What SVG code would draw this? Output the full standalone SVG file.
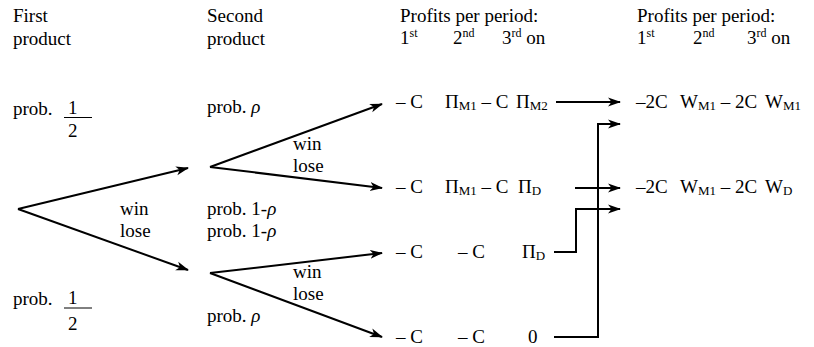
<svg xmlns="http://www.w3.org/2000/svg" width="814" height="347" viewBox="0 0 814 347" font-family="'Liberation Serif', 'Times New Roman', Times, serif">
<style>
text{font-family:'Liberation Serif','Times New Roman',Times,serif;font-size:19px;fill:#000}
.sub{font-size:13px}
.sup{font-size:12px}
.c{stroke:#000;stroke-width:2;fill:none}
</style>
<defs>
<marker id="ah" markerUnits="userSpaceOnUse" markerWidth="14" markerHeight="10" refX="12" refY="5" orient="auto">
<path d="M0,0.5 L13,5 L0,9.5 L3.5,5 z" fill="#000"/>
</marker>
</defs>
<g id="headers">
<text x="13" y="22">First</text>
<text x="13" y="45">product</text>
<text x="207" y="22">Second</text>
<text x="207" y="45">product</text>
<text x="400" y="22">Profits per period:</text>
<text x="400" y="44">1<tspan class="sup" dy="-7">st</tspan></text>
<text x="453" y="44">2<tspan class="sup" dy="-7">nd</tspan></text>
<text x="502" y="44">3<tspan class="sup" dy="-7">rd</tspan><tspan dy="7"> on</tspan></text>
<text x="637" y="22">Profits per period:</text>
<text x="637" y="44">1<tspan class="sup" dy="-7">st</tspan></text>
<text x="693" y="44">2<tspan class="sup" dy="-7">nd</tspan></text>
<text x="747" y="44">3<tspan class="sup" dy="-7">rd</tspan><tspan dy="7"> on</tspan></text>
</g>
<g id="first-probs">
<text x="13" y="115">prob.</text>
<text x="68" y="114">1</text>
<line x1="64" y1="117.5" x2="92" y2="117.5" stroke="#000" stroke-width="1"/>
<text x="68" y="137">2</text>
<text x="13" y="305">prob.</text>
<text x="68" y="304">1</text>
<line x1="64" y1="308" x2="92" y2="308" stroke="#000" stroke-width="1"/>
<text x="68" y="330">2</text>
<text x="120" y="215">win</text>
<text x="120" y="237">lose</text>
</g>
<g id="second-probs">
<text x="207" y="113">prob. <tspan font-style="italic">ρ</tspan></text>
<text x="207" y="215">prob. 1-<tspan font-style="italic">ρ</tspan></text>
<text x="207" y="237">prob. 1-<tspan font-style="italic">ρ</tspan></text>
<text x="207" y="322">prob. <tspan font-style="italic">ρ</tspan></text>
<text x="293" y="150">win</text>
<text x="293" y="172">lose</text>
<text x="293" y="278">win</text>
<text x="293" y="300">lose</text>
</g>
<g id="row1">
<text x="396" y="108">– C</text>
<text x="445" y="108">Π<tspan class="sub" dy="2">M1</tspan><tspan dy="-2"> – C</tspan></text>
<text x="516" y="108">Π<tspan class="sub" dy="2">M2</tspan></text>
</g>
<g id="row2">
<text x="396" y="193">– C</text>
<text x="445" y="193">Π<tspan class="sub" dy="2">M1</tspan><tspan dy="-2"> – C</tspan></text>
<text x="518" y="193">Π<tspan class="sub" dy="2">D</tspan></text>
</g>
<g id="row3">
<text x="396" y="258">– C</text>
<text x="458" y="258">– C</text>
<text x="522" y="258">Π<tspan class="sub" dy="2">D</tspan></text>
</g>
<g id="row4">
<text x="396" y="343">– C</text>
<text x="458" y="343">– C</text>
<text x="528" y="343">0</text>
</g>
<g id="outcome1">
<text x="636" y="108">–2C</text>
<text x="680" y="108">W<tspan class="sub" dy="2">M1</tspan><tspan dy="-2"> – 2C</tspan></text>
<text x="765" y="108">W<tspan class="sub" dy="2">M1</tspan></text>
</g>
<g id="outcome2">
<text x="636" y="193">–2C</text>
<text x="680" y="193">W<tspan class="sub" dy="2">M1</tspan><tspan dy="-2"> – 2C</tspan></text>
<text x="765" y="193">W<tspan class="sub" dy="2">D</tspan></text>
</g>
<g id="connectors">
<line class="c" x1="18" y1="209" x2="188" y2="168" marker-end="url(#ah)"/>
<line class="c" x1="18" y1="209" x2="188" y2="270" marker-end="url(#ah)"/>
<line class="c" x1="210" y1="167" x2="382" y2="104" marker-end="url(#ah)"/>
<line class="c" x1="210" y1="167" x2="382" y2="188" marker-end="url(#ah)"/>
<line class="c" x1="210" y1="273" x2="382" y2="253" marker-end="url(#ah)"/>
<line class="c" x1="210" y1="273" x2="382" y2="337" marker-end="url(#ah)"/>
<line class="c" x1="556" y1="102" x2="620" y2="102" marker-end="url(#ah)"/>
<line class="c" x1="575" y1="188" x2="620" y2="188" marker-end="url(#ah)"/>
<polyline class="c" points="554,337 598,337 598,124 620,124" marker-end="url(#ah)"/>
<polyline class="c" points="554,252 576,252 576,209 620,209" marker-end="url(#ah)"/>
</g>
</svg>
